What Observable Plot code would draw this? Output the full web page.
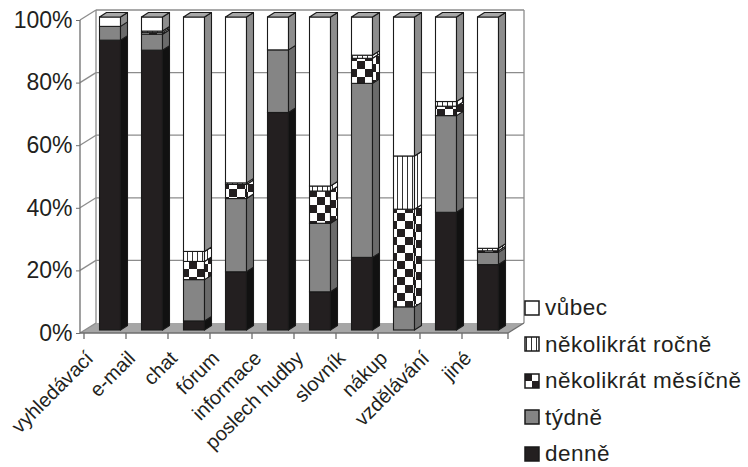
<!DOCTYPE html>
<html>
<head>
<meta charset="utf-8">
<script src="https://cdn.jsdelivr.net/npm/d3@7"></script>
<script src="https://cdn.jsdelivr.net/npm/@observablehq/plot@0.6"></script>
<style>
  body { margin: 0; background: #fff; }
  #chart { position: relative; width: 748px; height: 467px; font-family: "Liberation Sans", Arial, sans-serif; color: #231f20; }
  #chart svg { display: block; }
  #legend { position: absolute; left: 524px; top: 290px; }
  #legend .row { display: flex; align-items: center; height: 36.5px; font-size: 22.5px; line-height: 22px; letter-spacing: 0.5px; white-space: nowrap; }
  #legend .row svg { margin-right: 4px; }
</style>
</head>
<body>
<div id="chart"></div>
<script>
// Activities and how often they are done (percent of respondents)
const categories = ["vyhledávací", "e-mail", "chat", "fórum", "informace", "poslech hudby", "slovník", "nákup", "vzdělávání", "jiné"];
const series = ["denně", "týdně", "několikrát měsíčně", "několikrát ročně", "vůbec"];
const denne   = [92.6, 89.4,  2.9, 18.6, 69.5, 12.2, 23.2,  0.0, 37.6, 20.9];
const tydne   = [ 4.4,  5.1, 13.2, 23.4, 20.0, 21.9, 55.6,  7.4, 30.9,  3.9];
const mesicne = [ 0.0,  0.5,  5.8,  4.5,  0.0, 10.3,  8.0, 31.2,  3.0,  0.5];
const rocne   = [ 0.0,  0.5,  3.2,  0.5,  0.0,  1.6,  1.0, 17.0,  1.5,  0.8];
const vubec   = [ 3.0,  4.5, 74.9, 53.0, 10.5, 54.0, 12.2, 44.4, 27.0, 73.9];
const yTicks = [0, 20, 40, 60, 80, 100];

// Fills: solid greys plus two SVG patterns (checker, vertical lines)
const fronts = ["#231f20", "#858585", "url(#checker)", "url(#vlines)", "#ffffff"];
const sides  = ["#111111", "#6b6b6b", "url(#checker)", "url(#vlines)", "#8d8d8d"];
const tops   = ["#555555", "#9a9a9a", "url(#checker)", "url(#vlines)", "#a8a8a8"];

// Stacked segments (bottom to top in series order)
const valuesBySeries = [denne, tydne, mesicne, rocne, vubec];
const rows = [];
categories.forEach((c, i) => {
  let acc = 0;
  series.forEach((s, k) => {
    const v = valuesBySeries[k][i];
    if (v > 0) rows.push({category: c, series: s, k, y1: acc, y2: acc + v});
    acc += v;
  });
});

// 3D geometry offsets (pixels)
const WALL = {dx: 16, dy: -10};   // depth of the side wall / floor
const SHIFT = {dx: 5, dy: -3};    // bars sit slightly behind the front edge
const BAR = {dx: 7, dy: -4.5};    // bar thickness
const INSET = 10.5;

function defs() {
  const svg = d3.create("svg:defs");
  const ch = svg.append("pattern").attr("id", "checker").attr("width", 16).attr("height", 16)
    .attr("patternUnits", "userSpaceOnUse");
  ch.append("rect").attr("width", 16).attr("height", 16).attr("fill", "#fff");
  ch.append("rect").attr("width", 8).attr("height", 8).attr("fill", "#231f20");
  ch.append("rect").attr("x", 8).attr("y", 8).attr("width", 8).attr("height", 8).attr("fill", "#231f20");
  const vl = svg.append("pattern").attr("id", "vlines").attr("width", 5).attr("height", 5)
    .attr("patternUnits", "userSpaceOnUse");
  vl.append("rect").attr("width", 5).attr("height", 5).attr("fill", "#fff");
  vl.append("rect").attr("x", 2).attr("width", 1).attr("height", 5).attr("fill", "#333");
  return svg.node();
}

function walls(index, scales) {
  const {x, y} = scales;
  const [xa, xb] = x.range();
  const y0 = y(0), y100 = y(100);
  const g = d3.create("svg:g").attr("fill", "none");
  // floor
  g.append("path")
    .attr("d", `M${xa},${y0}L${xa + WALL.dx},${y0 + WALL.dy}L${xb + WALL.dx},${y0 + WALL.dy}L${xb},${y0}Z`)
    .attr("fill", "#a6a6a6");
  // gridlines on back wall and side wall
  const grid = g.append("g").attr("stroke", "#8c8c8c").attr("stroke-width", 1.3);
  for (const v of yTicks) {
    if (v > 0) {
      grid.append("line").attr("x1", xa + WALL.dx).attr("x2", xb + WALL.dx)
        .attr("y1", y(v) + WALL.dy).attr("y2", y(v) + WALL.dy);
    }
    grid.append("line").attr("x1", xa).attr("x2", xa + WALL.dx)
      .attr("y1", y(v)).attr("y2", y(v) + WALL.dy);
  }
  grid.append("line").attr("x1", xb + WALL.dx).attr("x2", xb + WALL.dx)
    .attr("y1", y100 + WALL.dy).attr("y2", y0 + WALL.dy);
  grid.append("line").attr("x1", xa + WALL.dx).attr("x2", xa + WALL.dx)
    .attr("y1", y100 + WALL.dy).attr("y2", y0 + WALL.dy);
  // front axis lines and category ticks
  const ax = g.append("g").attr("stroke", "#6e6e6e").attr("stroke-width", 1.3);
  ax.append("line").attr("x1", xa).attr("x2", xa).attr("y1", y100).attr("y2", y0);
  ax.append("line").attr("x1", xa).attr("x2", xb).attr("y1", y0).attr("y2", y0);
  ax.append("line").attr("x1", xb).attr("x2", xb + WALL.dx).attr("y1", y0).attr("y2", y0 + WALL.dy);
  const bounds = categories.map(c => x(c)).concat([xb]);
  for (const bx of bounds) {
    ax.append("line").attr("x1", bx).attr("x2", bx).attr("y1", y0).attr("y2", y0 + 6);
  }
  return g.node();
}

function barDepth(index, scales) {
  const {x, y} = scales;
  const bw = x.bandwidth();
  const g = d3.create("svg:g").attr("stroke", "#1a1a1a").attr("stroke-width", 1.1)
    .attr("stroke-linejoin", "round");
  for (const r of rows) {
    const xr = x(r.category) + bw - INSET + SHIFT.dx;
    const yt = y(r.y2) + SHIFT.dy, yb = y(r.y1) + SHIFT.dy;
    g.append("path")
      .attr("d", `M${xr},${yb}L${xr + BAR.dx},${yb + BAR.dy}L${xr + BAR.dx},${yt + BAR.dy}L${xr},${yt}Z`)
      .attr("fill", sides[r.k]);
  }
  for (const c of categories) {
    const segs = rows.filter(r => r.category === c);
    const top = segs[segs.length - 1];
    const xl = x(c) + INSET + SHIFT.dx, xr = x(c) + bw - INSET + SHIFT.dx;
    const yt = y(top.y2) + SHIFT.dy;
    g.append("path")
      .attr("d", `M${xl},${yt}L${xl + BAR.dx},${yt + BAR.dy}L${xr + BAR.dx},${yt + BAR.dy}L${xr},${yt}Z`)
      .attr("fill", tops[top.k]);
  }
  return g.node();
}

const chart = Plot.plot({
  width: 748,
  height: 467,
  marginLeft: 80,
  marginRight: 240,
  marginTop: 20,
  marginBottom: 134,
  style: {fontFamily: "'Liberation Sans', Arial, sans-serif", color: "#231f20", background: "#fff"},
  x: {domain: categories, padding: 0, axis: null},
  y: {domain: [0, 100], axis: null},
  color: {type: "ordinal", domain: series, range: fronts},
  marks: [
    defs,
    walls,
    Plot.barY(rows, {
      x: "category", y1: "y1", y2: "y2", fill: "series",
      stroke: "#1a1a1a", strokeWidth: 1.1,
      insetLeft: INSET, insetRight: INSET, dx: SHIFT.dx, dy: SHIFT.dy
    }),
    barDepth,
    Plot.axisY({
      ticks: yTicks, tickFormat: d => d + "%", label: null,
      fontSize: 23, tickSize: 4, tickPadding: 4, stroke: "#6e6e6e", fill: "#231f20"
    }),
    Plot.text(categories, {
      x: d => d, frameAnchor: "bottom", rotate: -45, textAnchor: "end", lineAnchor: "bottom",
      dx: -11, dy: 26, fontSize: 20, fill: "#231f20"
    })
  ]
});

const root = document.getElementById("chart");
root.appendChild(chart);

// Legend (top series first)
const legend = d3.select(root).append("div").attr("id", "legend");
series.map((s, k) => ({s, k})).reverse().forEach(({s, k}) => {
  const row = legend.append("div").attr("class", "row");
  const sw = row.append("svg").attr("width", 17).attr("height", 17);
  sw.append("rect").attr("x", 1).attr("y", 1).attr("width", 14).attr("height", 14)
    .attr("fill", fronts[k]).attr("stroke", "#1a1a1a").attr("stroke-width", 1.5);
  row.append("span").text(s);
});
</script>
</body>
</html>
